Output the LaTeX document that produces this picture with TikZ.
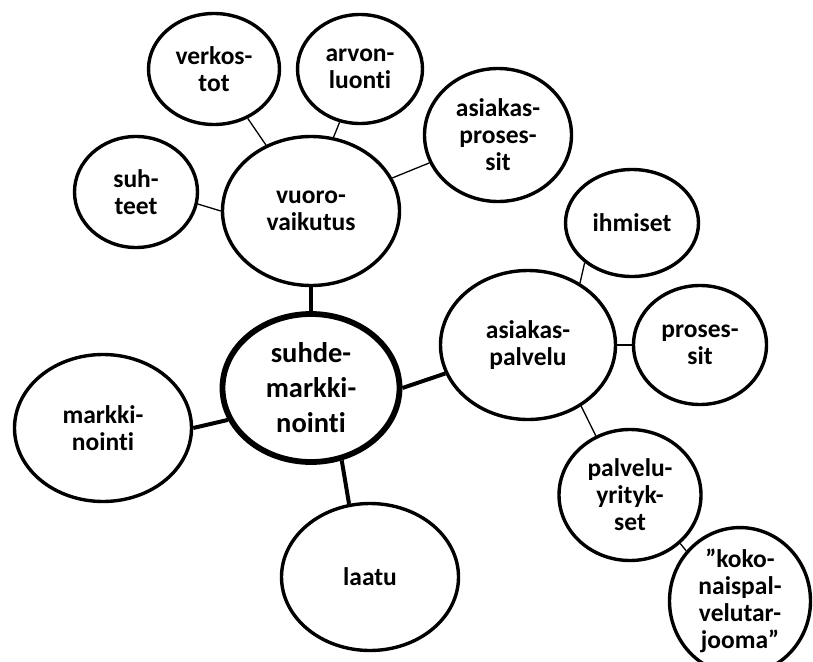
\documentclass[tikz,border=0pt]{standalone}
\usepackage{fontspec}
\setmainfont{Carlito}[Ligatures=NoCommon]
\usetikzlibrary{shapes.geometric}
\newcommand\bubblefont{\bfseries\fontsize{25.5}{27}\selectfont}
\newcommand\hubfont{\bfseries\fontsize{28.5}{35}\selectfont}
\tikzset{
  bubble/.style={ellipse, draw, line width=3.4pt, fill=white, inner sep=0pt,
    align=center, font=\bubblefont},
  hubbubble/.style={bubble, line width=5.8pt, font=\hubfont},
  thinlink/.style={line width=1.3pt},
  thicklink/.style={line width=4pt},
}
\begin{document}
\begin{tikzpicture}[x=1pt,y=-1pt]
\useasboundingbox (0,0) rectangle (813,661);
% outer ring of topics
\node[bubble, minimum width=131, minimum height=111] (verk) at (214,69) {verkos-\\tot};
\node[bubble, minimum width=125, minimum height=109] (arvo) at (360,69) {arvon-\\luonti};
\node[bubble, minimum width=123, minimum height=111] (suht) at (136,192) {suh-\\teet};
\node[bubble, minimum width=177, minimum height=149] (vuoro) at (311,211) {vuoro-\\vaikutus};
\node[bubble, minimum width=147, minimum height=133] (aspr) at (498,135) {asiakas-\\proses-\\sit};
\node[bubble, minimum width=133, minimum height=107] (ihm) at (632,223) {ihmiset};
\node[bubble, minimum width=175, minimum height=149] (aspa) at (528,345) {asiakas-\\palvelu};
\node[bubble, minimum width=133, minimum height=119] (pros) at (700,345) {proses-\\sit};
\node[bubble, minimum width=177, minimum height=147] (mark) at (103,428) {markki-\\nointi};
\node[hubbubble, minimum width=177, minimum height=148] (hub) at (311,388) {suhde-\\markki-\\nointi};
\node[bubble, minimum width=177, minimum height=147] (laatu) at (370,577) {laatu};
\node[bubble, minimum width=142, minimum height=131] (pyr) at (630,495) {palvelu-\\yrityk-\\set};
\node[bubble, minimum width=141, minimum height=136] (koko) at (740,601) {”koko-\\naispal-\\velutar-\\jooma”};
% links to the central topic
\draw[thicklink] (vuoro.south) -- (hub.north);
\draw[thicklink] (hub.201) -- (mark.east);
\draw[thicklink] (hub.-67) -- (laatu.106);
\draw[thicklink] (hub.east) -- (aspa.199);
% links around vuorovaikutus
\draw[thinlink] (suht.-11) -- (vuoro.west);
\draw[thinlink] (verk) -- (vuoro);
\draw[thinlink] (arvo.249) -- (vuoro.73);
\draw[thinlink] (aspr) -- (vuoro);
% links around asiakaspalvelu
\draw[thinlink] (aspa.50) -- (ihm.220);
\draw[thinlink] (aspa.east) -- (pros.west);
\draw[thinlink] (aspa.-49) -- (pyr.120);
\draw[thinlink] (pyr.-44) -- (koko.137);
\end{tikzpicture}
\end{document}
